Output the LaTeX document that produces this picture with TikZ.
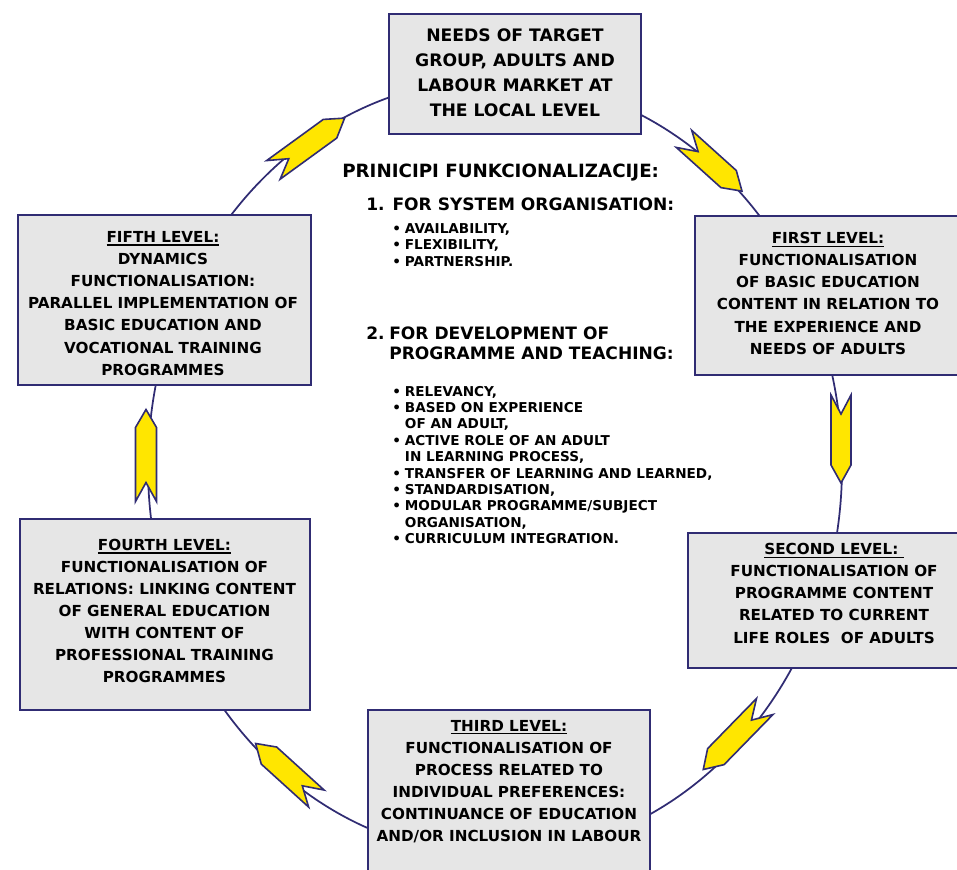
\documentclass[tikz,border=0pt]{standalone}
\usepackage{fontspec}
\setmainfont{DejaVu Sans}
\definecolor{navy}{RGB}{48,44,115}
\definecolor{boxgrey}{RGB}{230,230,230}
\definecolor{chevyellow}{RGB}{255,230,0}
\newcommand{\fs}[2]{\fontsize{#1}{#2}\selectfont}
\newcommand{\hdr}[1]{\setbox0\hbox{#1}\rlap{\rule[-2.6pt]{\wd0}{1.1pt}}\box0}
\tikzset{
  lvlbox/.style={draw=navy, line width=1.6pt, fill=boxgrey, inner sep=0pt},
  lvltext/.style={align=center, inner sep=0pt, font=\bfseries\fs{11.4}{16.6}},
  chevshape/.style={draw=navy, line width=1.2pt, fill=chevyellow, line join=miter},
  ring/.style={draw=navy, line width=1.3pt},
  midtext/.style={anchor=base west, inner sep=0pt},
}
% #1,#2 centre, #3 angle, #4 length, #5 half width
\newcommand{\chevron}[5]{%
  \begin{scope}[shift={(#1,#2)}, rotate=#3]
    \draw[chevshape] (#4/2,0) -- (#4/2-18,#5) -- (-#4/2,#5) -- (-#4/2+19,0) -- (-#4/2,-#5) -- (#4/2-18,-#5) -- cycle;
  \end{scope}}
\begin{document}
\begin{tikzpicture}[x=0.75pt, y=-0.75pt]
\useasboundingbox (0,0) rectangle (957,869);
\fill[white] (0,0) rectangle (957,869);
% ring connecting the levels
\draw[ring] (495,467) ellipse [x radius=260.25pt, y radius=291pt];
% chevrons
\chevron{309}{144}{36}{88}{11.5}
\chevron{713}{165}{-42}{78}{11.5}
\chevron{841}{439}{-90}{88}{10}
\chevron{734}{738}{225.7}{88}{11.5}
\chevron{286}{771}{137.8}{82}{11.5}
\chevron{146}{455.5}{90}{92}{10.5}
% boxes
\node[lvlbox, minimum width=189pt, minimum height=90pt] (top) at (515,74) {};
\node[lvlbox, minimum width=219.75pt, minimum height=127.5pt] (fifth) at (164.5,300) {};
\node[lvlbox, minimum width=206.25pt, minimum height=119.25pt] (first) at (832.5,295.5) {};
\node[lvlbox, minimum width=211.5pt, minimum height=101.25pt] (second) at (829,600.5) {};
\node[lvlbox, minimum width=217.5pt, minimum height=143.25pt] (fourth) at (165,614.5) {};
\node[lvlbox, minimum width=211.5pt, minimum height=131.25pt] (third) at (509,797.5) {};
% box texts
\node[lvltext, font=\bfseries\fs{12.9}{18.75}] (toptxt) at (515,72.5)
  {NEEDS OF TARGET\\GROUP, ADULTS AND\\LABOUR MARKET AT\\THE LOCAL LEVEL};
\node[lvltext] (fifthtxt) at (163,303.4)
  {\hdr{FIFTH LEVEL:}\\DYNAMICS\\FUNCTIONALISATION:\\PARALLEL IMPLEMENTATION OF\\BASIC EDUCATION AND\\VOCATIONAL TRAINING\\PROGRAMMES};
\node[lvltext] (firsttxt) at (828,293.3)
  {\hdr{FIRST LEVEL:}\\FUNCTIONALISATION\\OF BASIC EDUCATION\\CONTENT IN RELATION TO\\THE EXPERIENCE AND\\NEEDS OF ADULTS};
\node[lvltext] (secondtxt) at (834,593.3)
  {\hdr{SECOND LEVEL: }\\FUNCTIONALISATION OF\\PROGRAMME CONTENT\\RELATED TO CURRENT\\LIFE ROLES\ \ OF ADULTS};
\node[lvltext] (fourthtxt) at (164.5,611)
  {\hdr{FOURTH LEVEL:}\\FUNCTIONALISATION OF\\RELATIONS: LINKING CONTENT\\OF GENERAL EDUCATION\\WITH CONTENT OF\\PROFESSIONAL TRAINING\\PROGRAMMES};
\node[lvltext] (thirdtxt) at (509,781.5)
  {\hdr{THIRD LEVEL:}\\FUNCTIONALISATION OF\\PROCESS RELATED TO\\INDIVIDUAL PREFERENCES:\\CONTINUANCE OF EDUCATION\\AND/OR INCLUSION IN LABOUR};
% middle text
\node[midtext, font=\bfseries\fs{13.7}{16}] (title) at (342,177) {PRINICIPI FUNKCIONALIZACIJE:};
\node[midtext, font=\bfseries\fs{12.8}{16}] (sys) at (366,210) {1. FOR SYSTEM ORGANISATION:};
\node[midtext, font=\bfseries\fs{10.2}{12.4}] (list1) at (392,233)
  {\begin{tabular}[t]{@{}l@{\hspace{3pt}}l@{}}•&AVAILABILITY,\\•&FLEXIBILITY,\\•&PARTNERSHIP.\end{tabular}};
\node[midtext, font=\bfseries\fs{12.8}{15}] (dev) at (366,339)
  {\begin{tabular}[t]{@{}l@{\hspace{3.5pt}}l@{}}2.&FOR DEVELOPMENT OF\\&PROGRAMME AND TEACHING:\end{tabular}};
\node[midtext, font=\bfseries\fs{10.2}{12.3}] (list2) at (392,396)
  {\begin{tabular}[t]{@{}l@{\hspace{3pt}}l@{}}•&RELEVANCY,\\•&BASED ON EXPERIENCE\\&OF AN ADULT,\\•&ACTIVE ROLE OF AN ADULT\\&IN LEARNING PROCESS,\\•&TRANSFER OF LEARNING AND LEARNED,\\•&STANDARDISATION,\\•&MODULAR PROGRAMME/SUBJECT\\&ORGANISATION,\\•&CURRICULUM INTEGRATION.\end{tabular}};
\end{tikzpicture}
\end{document}
